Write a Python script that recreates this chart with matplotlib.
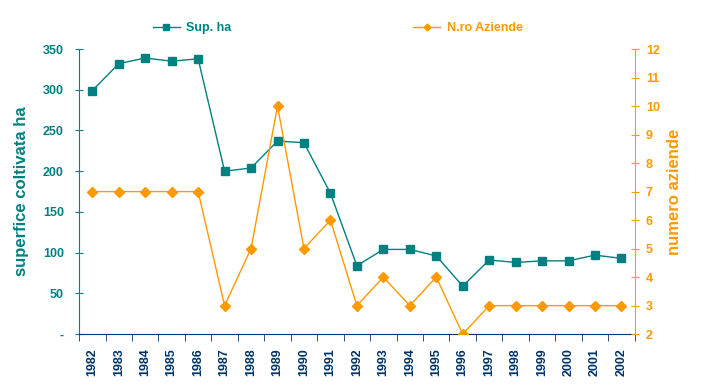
import matplotlib.pyplot as plt
import numpy as np
from matplotlib.ticker import FuncFormatter, FixedLocator

plt.rcParams['font.family'] = ['Liberation Sans', 'DejaVu Sans']
plt.rcParams['font.weight'] = 'bold'

years = [str(y) for y in range(1982, 2003)]
sup_ha = [299, 332, 339, 335, 338, 200, 204, 237, 235, 173, 84,
          104, 104, 96, 59, 91, 88, 90, 90, 97, 93]
n_aziende = [7, 7, 7, 7, 7, 3, 5, 10, 5, 6, 3, 4, 3, 4, 2, 3, 3, 3, 3, 3, 3]

TEAL = "#008080"
ORANGE = "#FF9900"
NAVY = "#003366"

fig = plt.figure(figsize=(7.06, 3.89), dpi=100)
ax = fig.add_axes([0.112, 0.141, 0.787, 0.733])
ax2 = ax.twinx()

x = np.arange(len(years))
l1, = ax.plot(x, sup_ha, color=TEAL, lw=1, marker="s", ms=6, label="Sup. ha")
l2, = ax2.plot(x, n_aziende, color=ORANGE, lw=1, marker="D", ms=5, label="N.ro Aziende")

ax.set_xlim(-0.5, len(years) - 0.5)
ax.set_ylim(0, 350)
ax2.set_ylim(2, 12)
ax.set_yticks(np.arange(0, 351, 50))
ax2.set_yticks(np.arange(2, 13, 1))
ax.yaxis.set_major_formatter(FuncFormatter(lambda v, p: "-" if v == 0 else f"{v:.0f}"))

ax.set_xticks(x)
ax.set_xticklabels(years, rotation=90, color=NAVY, fontsize=9, fontweight="bold")
ax.tick_params(axis="x", which="major", length=0, pad=10)
ax.xaxis.set_minor_locator(FixedLocator(np.arange(-0.5, len(years), 1)))
ax.tick_params(axis="x", which="minor", length=5, color=NAVY, direction="out")

ax.tick_params(axis="y", colors=TEAL, labelsize=9, length=6, direction="inout", pad=8)
ax2.tick_params(axis="y", colors=ORANGE, labelsize=9, length=6, direction="inout", pad=5)
for lab in ax.get_yticklabels() + ax2.get_yticklabels():
    lab.set_fontweight("bold")

for s in ["top", "right"]:
    ax.spines[s].set_visible(False)
for s in ["top", "left", "bottom"]:
    ax2.spines[s].set_visible(False)
ax.spines["left"].set_color(TEAL)
ax.spines["bottom"].set_color(NAVY)
ax2.spines["right"].set_color(ORANGE)

ax.set_ylabel("superfice coltivata ha", color=TEAL, fontsize=12, fontweight="bold", labelpad=10)
ax2.set_ylabel("numero aziende", color=ORANGE, fontsize=12, fontweight="bold", labelpad=5)

leg = fig.legend(handles=[l1, l2], loc="center", bbox_to_anchor=(0.478, 0.928), ncol=2,
                 frameon=False, columnspacing=14.5, handlelength=2.2, handletextpad=0.5,
                 markerscale=0.7, prop={"weight": "bold", "size": 9})
for t, c in zip(leg.get_texts(), [TEAL, ORANGE]):
    t.set_color(c)

fig.savefig("out.png", dpi=100)
